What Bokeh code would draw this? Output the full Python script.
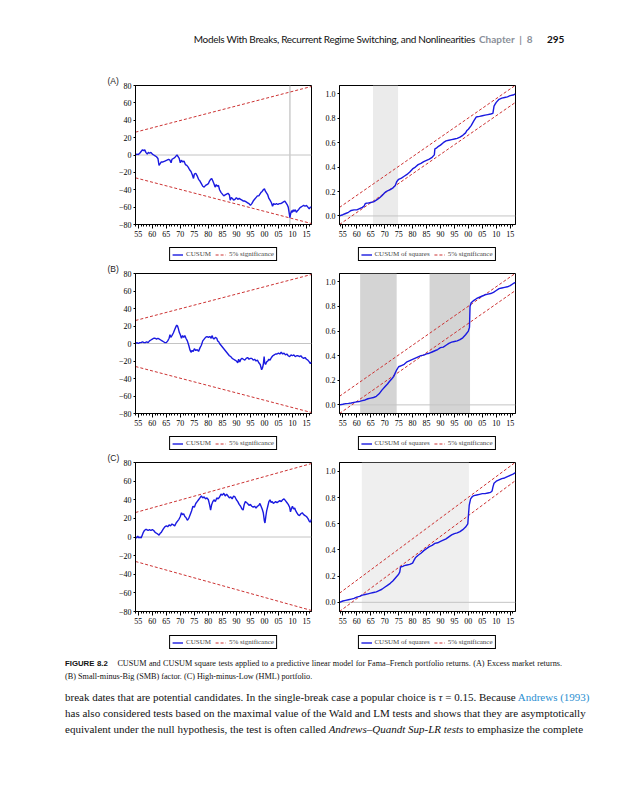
import numpy as np
from bokeh.plotting import figure
from bokeh.models import (Range1d, FixedTicker, Legend, LegendItem, Span,
                          BoxAnnotation, Div, Spacer)
from bokeh.layouts import column, row
from bokeh.embed import file_html
from bokeh.resources import INLINE

# ---------------- data ----------------
major_years = [1955, 1960, 1965, 1970, 1975, 1980, 1985, 1990, 1995, 2000, 2005, 2010, 2015]
year_labels = ["55", "60", "65", "70", "75", "80", "85", "90", "95", "00", "05", "10", "15"]
minor_years = list(range(1954, 2018))

cusum_ticks = [-80, -60, -40, -20, 0, 20, 40, 60, 80]
cusum_labels = ["\u221280", "\u221260", "\u221240", "\u221220", "0", "20", "40", "60", "80"]
sq_ticks = [0.0, 0.2, 0.4, 0.6, 0.8, 1.0]
sq_labels = ["0.0", "0.2", "0.4", "0.6", "0.8", "1.0"]

cusum_span = [1954.0, 2016.8]
sq_span = [1953.8, 2016.9]
cusum_bound = [26.3, 78.9]          # 5% band at start / end (+ and -)
sq_upper = [0.07, 1.07]
sq_lower = [-0.07, 0.93]

# Panel A: excess market returns
a_cusum_x = [1954.0, 1954.5, 1955.0, 1955.5, 1956.0, 1956.5, 1957.0, 1957.3, 1957.7, 1958.2, 1958.6, 1959.0,
             1959.5, 1960.0, 1960.5, 1961.0, 1961.5, 1962.0, 1962.4, 1962.8, 1963.2, 1963.8, 1964.5, 1965.2,
             1965.8, 1966.3, 1966.7, 1967.0, 1967.5, 1968.0, 1968.5, 1968.8, 1969.2, 1969.6, 1970.0, 1970.4,
             1970.8, 1971.3, 1971.8, 1972.3, 1972.8, 1973.3, 1973.8, 1974.3, 1974.7, 1975.0, 1975.5, 1976.0,
             1976.5, 1977.0, 1977.5, 1978.0, 1978.5, 1979.0, 1979.5, 1980.0, 1980.4, 1980.8, 1981.2, 1981.6,
             1982.0, 1982.4, 1982.8, 1983.2, 1983.6, 1984.0, 1984.5, 1985.0, 1985.5, 1986.0, 1986.5, 1987.0,
             1987.5, 1987.8, 1988.2, 1988.6, 1989.0, 1989.5, 1990.0, 1990.5, 1991.0, 1991.5, 1992.0, 1992.5,
             1993.0, 1993.5, 1994.0, 1994.5, 1995.0, 1995.5, 1996.0, 1996.5, 1997.0, 1997.5, 1998.0, 1998.4,
             1998.8, 1999.2, 1999.6, 2000.0, 2000.4, 2000.8, 2001.2, 2001.6, 2002.0, 2002.5, 2002.9, 2003.3,
             2003.8, 2004.3, 2004.8, 2005.3, 2005.8, 2006.3, 2006.8, 2007.3, 2007.7, 2008.1, 2008.5, 2008.9,
             2009.1, 2009.4, 2009.7, 2010.0, 2010.3, 2010.6, 2011.0, 2011.4, 2011.8, 2012.2, 2012.6, 2013.0,
             2013.5, 2014.0, 2014.5, 2015.0, 2015.5, 2016.0, 2016.4, 2016.8]
a_cusum_y = [0, 1, 0.5, 2, 4, 6, 5, 6, 3, 1, 3, 2,
             3, 1, 0, -1, -2, -4, -12, -10, -8, -8, -7, -6,
             -5, -6, -9, -5, -4, -3, -1, 0, -2, -4, -9, -6,
             -8, -7, -11, -12, -14, -17, -19, -23, -27, -22, -21, -24,
             -28, -30, -33, -36, -37, -35, -34, -33, -30, -28, -27, -30,
             -33, -37, -34, -36, -35, -40, -43, -45, -47, -46, -45, -44,
             -46, -52, -49, -50, -52, -51, -49, -51, -50, -51, -52, -53,
             -53, -54, -55, -56, -58, -56, -53, -51, -49, -47, -47, -45,
             -43, -42, -40, -39, -42, -44, -46, -50, -52, -55, -59, -56,
             -57, -56, -57, -56, -56, -55, -54, -53, -55, -57, -60, -68,
             -72, -67, -64, -66, -63, -65, -63, -66, -64, -63, -61, -60,
             -59, -58, -59, -58, -60, -62, -60, -60]
a_vline = [2009.1]

a_sq_x = [1953.8, 1955, 1956, 1957, 1958, 1959, 1960, 1961, 1962, 1962.6, 1963.0, 1963.5, 1964, 1965, 1966,
          1967, 1968, 1969, 1970, 1970.5, 1971, 1972, 1973, 1973.8, 1974.3, 1975, 1976, 1977, 1978, 1979,
          1980, 1981, 1982, 1983, 1984, 1985, 1986, 1987, 1987.8, 1988.0, 1988.5, 1989, 1990, 1991, 1992,
          1993, 1994, 1995, 1996, 1997, 1998, 1999, 1999.5, 2000, 2001, 2002, 2002.8, 2004, 2005, 2006,
          2007, 2008, 2008.8, 2009.2, 2009.6, 2010, 2011, 2012, 2013, 2014, 2015, 2016, 2016.9]
a_sq_y = [0.0, 0.01, 0.02, 0.03, 0.045, 0.05, 0.05, 0.06, 0.07, 0.08, 0.1, 0.105, 0.105, 0.11, 0.115,
          0.13, 0.145, 0.165, 0.19, 0.2, 0.205, 0.215, 0.23, 0.25, 0.28, 0.3, 0.31, 0.325, 0.34, 0.36,
          0.385, 0.4, 0.42, 0.43, 0.445, 0.455, 0.465, 0.48, 0.5, 0.55, 0.555, 0.565, 0.58, 0.6, 0.615,
          0.62, 0.625, 0.63, 0.635, 0.645, 0.66, 0.68, 0.7, 0.71, 0.74, 0.78, 0.81, 0.815, 0.82, 0.825,
          0.83, 0.835, 0.84, 0.9, 0.915, 0.93, 0.955, 0.965, 0.97, 0.975, 0.985, 0.99, 1.0]
a_shade_start = [1965.8]
a_shade_end = [1974.8]

# Panel B: SMB factor
b_cusum_x = [1954.0, 1954.5, 1955, 1955.5, 1956, 1956.5, 1957, 1957.5, 1958, 1958.5, 1959, 1959.5, 1960,
             1960.5, 1961, 1961.5, 1962, 1962.5, 1963, 1963.5, 1964, 1964.5, 1965, 1965.5, 1966, 1966.3,
             1966.6, 1967, 1967.5, 1968, 1968.4, 1968.7, 1969, 1969.3, 1969.6, 1970, 1970.4, 1970.8, 1971.2,
             1971.6, 1972, 1972.5, 1973, 1973.4, 1973.8, 1974.2, 1974.6, 1975, 1975.5, 1976, 1976.5, 1977,
             1977.5, 1978, 1978.5, 1979, 1979.5, 1980, 1980.5, 1981, 1981.3, 1981.7, 1982, 1982.5, 1983,
             1983.3, 1983.7, 1984, 1984.5, 1985, 1985.5, 1986, 1986.5, 1987, 1987.5, 1988, 1988.5, 1989,
             1989.5, 1990, 1990.5, 1990.8, 1991.2, 1991.6, 1992, 1992.5, 1993, 1993.5, 1994, 1994.5, 1995,
             1995.5, 1996, 1996.5, 1997, 1997.5, 1998, 1998.5, 1999, 1999.3, 1999.6, 1999.9, 2000.1, 2000.4,
             2000.8, 2001.2, 2001.6, 2002, 2002.5, 2003, 2003.5, 2004, 2004.5, 2005, 2005.5, 2006, 2006.5,
             2007, 2007.5, 2008, 2008.5, 2009, 2009.5, 2010, 2010.5, 2011, 2011.5, 2012, 2012.5, 2013,
             2013.5, 2014, 2014.5, 2015, 2015.5, 2016, 2016.4, 2016.8]
b_cusum_y = [0, 1, 0, 1, 1, 2, 1, 1, 2, 1, 3, 4, 5,
             6, 6, 5, 6, 5, 4, 3, 2, 1, 1, 3, 6, 10,
             7, 9, 12, 16, 19, 21, 20, 17, 13, 10, 6, 9, 7,
             9, 6, 3, -2, -7, -10, -8, -9, -6, -8, -7, -9, -5,
             -2, 3, 5, 7, 8, 7, 8, 6, 9, 6, 5, 7, 6,
             3, 2, 0, -2, -4, -6, -8, -10, -12, -14, -15, -17, -18,
             -19, -20, -22, -18, -21, -18, -17, -18, -19, -17, -16, -18, -17,
             -17, -19, -18, -20, -19, -22, -24, -30, -28, -24, -15, -22, -24,
             -21, -20, -18, -19, -16, -14, -13, -12, -12, -11, -12, -10, -12,
             -11, -13, -12, -14, -15, -13, -14, -13, -15, -14, -14, -15, -14,
             -16, -17, -16, -18, -19, -21, -23, -21]

b_sq_x = [1953.8, 1955, 1956, 1957, 1958, 1959, 1960, 1961, 1962, 1963, 1964, 1965, 1966, 1967, 1968,
          1969, 1970, 1971, 1971.7, 1972.5, 1973.2, 1973.8, 1974.2, 1975, 1976, 1977, 1978, 1979, 1980,
          1981, 1982, 1983, 1984, 1985, 1986, 1987, 1988, 1989, 1990, 1991, 1992, 1993, 1994, 1995, 1996,
          1997, 1998, 1999, 2000, 2000.4, 2000.6, 2001, 2002, 2003, 2004, 2005, 2006, 2007, 2008, 2009,
          2010, 2011, 2012, 2013, 2014, 2015, 2016, 2016.9]
b_sq_y = [0.0, 0.005, 0.01, 0.012, 0.015, 0.02, 0.025, 0.028, 0.035, 0.04, 0.05, 0.055, 0.06, 0.07, 0.09,
          0.12, 0.145, 0.17, 0.19, 0.21, 0.23, 0.26, 0.28, 0.31, 0.32, 0.33, 0.35, 0.36, 0.37,
          0.38, 0.39, 0.4, 0.405, 0.415, 0.42, 0.43, 0.44, 0.45, 0.465, 0.47, 0.485, 0.5, 0.51, 0.515, 0.52,
          0.53, 0.545, 0.57, 0.6, 0.63, 0.8, 0.83, 0.85, 0.865, 0.875, 0.885, 0.895, 0.9, 0.905, 0.915,
          0.93, 0.945, 0.95, 0.955, 0.96, 0.97, 0.985, 0.995]
b_shade_start = [1961.2, 1986.1]
b_shade_end = [1974.3, 2000.6]

# Panel C: HML portfolio
c_cusum_x = [1954.0, 1954.4, 1954.8, 1955.2, 1955.6, 1956, 1956.4, 1956.8, 1957.2, 1957.6, 1958, 1958.5,
             1959, 1959.5, 1960, 1960.5, 1961, 1961.5, 1962, 1962.4, 1962.8, 1963.2, 1963.6, 1964, 1964.5,
             1965, 1965.5, 1966, 1966.5, 1967, 1967.5, 1968, 1968.5, 1969, 1969.5, 1970, 1970.4, 1970.8,
             1971.2, 1971.6, 1972, 1972.5, 1973, 1973.5, 1974, 1974.5, 1975, 1975.5, 1976, 1976.5, 1977,
             1977.5, 1978, 1978.5, 1979, 1979.5, 1980, 1980.4, 1980.8, 1981.2, 1981.6, 1982, 1982.5, 1983,
             1983.5, 1984, 1984.5, 1985, 1985.5, 1986, 1986.5, 1987, 1987.5, 1988, 1988.5, 1989, 1989.5,
             1990, 1990.5, 1991, 1991.5, 1992, 1992.4, 1992.8, 1993.2, 1993.6, 1994, 1994.5, 1995, 1995.5,
             1996, 1996.5, 1997, 1997.5, 1998, 1998.4, 1998.8, 1999.2, 1999.6, 2000.0, 2000.2, 2000.5,
             2000.8, 2001.2, 2001.6, 2002, 2002.4, 2002.8, 2003.2, 2003.6, 2004, 2004.5, 2005, 2005.5, 2006,
             2006.5, 2007, 2007.5, 2008, 2008.5, 2009, 2009.3, 2009.6, 2010, 2010.4, 2010.8, 2011.2, 2011.6,
             2012, 2012.5, 2013, 2013.5, 2014, 2014.5, 2015, 2015.5, 2016, 2016.4, 2016.8]
c_cusum_y = [0, -1, 1, -1, 0, -1, 2, 5, 7, 8, 8, 7,
             8, 7, 8, 7, 5, 4, 3, 2, 4, 5, 7, 9, 11,
             12, 11, 13, 12, 14, 13, 12, 15, 17, 19, 22, 26, 24,
             25, 22, 21, 18, 20, 24, 28, 33, 32, 36, 38, 40, 42,
             44, 42, 43, 41, 42, 40, 35, 29, 35, 38, 40, 38, 42,
             41, 43, 46, 45, 47, 44, 46, 44, 42, 43, 41, 44, 43,
             40, 38, 35, 33, 30, 29, 35, 38, 37, 36, 34, 35, 33,
             32, 33, 31, 33, 34, 36, 33, 30, 26, 17, 15, 22,
             28, 33, 38, 40, 37, 38, 36, 37, 38, 37, 38, 39, 38,
             40, 41, 39, 37, 35, 32, 27, 30, 33, 30, 31, 28, 26,
             24, 23, 25, 26, 24, 23, 22, 20, 17, 16, 19]

c_sq_x = [1953.8, 1955, 1956, 1957, 1958, 1959, 1960, 1961, 1962, 1963, 1964, 1965, 1966, 1967, 1968,
          1969, 1970, 1971, 1972, 1973, 1974, 1975, 1975.4, 1975.7, 1976.5, 1977, 1978, 1979, 1980, 1980.5,
          1981, 1982, 1983, 1984, 1985, 1986, 1987, 1988, 1989, 1990, 1991, 1992, 1993, 1994, 1995, 1996,
          1997, 1998, 1999, 1999.8, 2000.3, 2000.8, 2001.5, 2002, 2003, 2004, 2005, 2006, 2007, 2008,
          2008.5, 2008.8, 2009.2, 2010, 2011, 2012, 2013, 2014, 2015, 2016, 2016.9]
c_sq_y = [0.0, 0.01, 0.015, 0.02, 0.025, 0.03, 0.04, 0.045, 0.055, 0.06, 0.065, 0.07, 0.075, 0.08, 0.09,
          0.1, 0.115, 0.13, 0.145, 0.165, 0.19, 0.215, 0.23, 0.27, 0.275, 0.28, 0.285, 0.29, 0.3, 0.32,
          0.34, 0.36, 0.375, 0.395, 0.41, 0.425, 0.435, 0.45, 0.455, 0.465, 0.475, 0.485, 0.5, 0.515, 0.525,
          0.53, 0.54, 0.555, 0.575, 0.6, 0.74, 0.79, 0.81, 0.815, 0.82, 0.825, 0.83, 0.83, 0.835, 0.84,
          0.85, 0.88, 0.91, 0.925, 0.935, 0.945, 0.95, 0.96, 0.97, 0.98, 0.99]
c_shade_start = [1961.8]
c_shade_end = [2000.2]

# ---------------- styling ----------------
AX_FONT = "Liberation Serif"
AX_SIZE = "8px"
LEG_SIZE = "7px"
BLUE = "#1a1ae0"
RED = "#cc3333"
ZERO = "#c4c4c4"
LEFT_W, LEFT_BL, LEFT_BR = 227, 40, 11
RIGHT_W, RIGHT_BL, RIGHT_BR = 204, 16, 11
TOP_B, AXIS_B = 11, 20


def style_axes(p, yticks, ylabels):
    p.xgrid.visible = False
    p.ygrid.visible = False
    p.outline_line_color = "black"
    p.outline_line_width = 1
    p.background_fill_color = "white"
    p.border_fill_color = "white"
    p.xaxis.ticker = FixedTicker(ticks=major_years, minor_ticks=minor_years)
    p.xaxis.major_label_overrides = dict(zip(major_years, year_labels))
    p.yaxis.ticker = FixedTicker(ticks=yticks, minor_ticks=[])
    p.yaxis.major_label_overrides = dict(zip(yticks, ylabels))
    for ax in (p.xaxis[0], p.yaxis[0]):
        ax.axis_line_color = "black"
        ax.major_tick_line_color = "black"
        ax.minor_tick_line_color = "black"
        ax.major_label_text_font = AX_FONT
        ax.major_label_text_font_size = AX_SIZE
        ax.major_label_text_color = "black"
        ax.major_tick_in = 0
        ax.minor_tick_in = 0
    p.xaxis.major_tick_out = 4
    p.xaxis.minor_tick_out = 2
    p.xaxis.major_label_standoff = 2
    p.yaxis.major_tick_out = 2
    p.yaxis.minor_tick_out = 0
    p.yaxis.major_label_standoff = 2


def legend_fig(width, bl, br, height, main_label, top_gap):
    q = figure(width=width, height=height, x_range=Range1d(0, 1), y_range=Range1d(0, 1),
               x_axis_type=None, y_axis_type=None, output_backend="svg", toolbar_location=None,
               min_border_left=bl, min_border_right=br, min_border_top=0, min_border_bottom=0)
    q.outline_line_color = None
    q.background_fill_color = "white"
    q.border_fill_color = "white"
    # legend proxies: a single undefined point, so nothing is drawn in the plot area
    proxy = np.array([np.nan])
    r_main = q.line(proxy, proxy, line_color=BLUE, line_width=1.4)
    r_sig = q.line(proxy, proxy, line_color=RED, line_dash="3 2", line_width=1)
    leg = Legend(items=[LegendItem(label=main_label, renderers=[r_main]),
                        LegendItem(label="5% significance", renderers=[r_sig])],
                 orientation="horizontal", location="top_center", margin=top_gap,
                 border_line_color="black", border_line_width=1, border_line_alpha=1,
                 background_fill_color="white", background_fill_alpha=1,
                 label_text_font=AX_FONT, label_text_font_size=LEG_SIZE,
                 glyph_width=11, glyph_height=7, label_height=7, label_standoff=3,
                 padding=2, spacing=4)
    q.add_layout(leg)
    return q


def letter_title(p, letter):
    p.title.text = letter
    p.title.text_font = "Liberation Sans"
    p.title.text_font_size = "8.5px"
    p.title.text_font_style = "normal"
    p.title.text_color = "#222222"
    p.title.align = "left"
    p.title.offset = -28
    p.title.standoff = 0


def cusum_fig(xs, ys, letter, vlines, frame_h):
    p = figure(width=LEFT_W, height=TOP_B + frame_h + AXIS_B,
               x_range=Range1d(cusum_span[0], cusum_span[1]), y_range=Range1d(-80, 80),
               output_backend="svg", toolbar_location=None,
               min_border_left=LEFT_BL, min_border_right=LEFT_BR, min_border_top=TOP_B,
               min_border_bottom=AXIS_B)
    style_axes(p, cusum_ticks, cusum_labels)
    letter_title(p, letter)
    p.add_layout(Span(location=0, dimension="width", line_color=ZERO, line_width=1, level="underlay"))
    for v in vlines:
        p.add_layout(Span(location=v, dimension="height", line_color="#cccccc", line_width=1.5,
                          level="underlay"))
    p.line(cusum_span, cusum_bound, line_color=RED, line_dash="3 2", line_width=1)
    p.line(cusum_span, [-b for b in cusum_bound], line_color=RED, line_dash="3 2", line_width=1)
    p.line(xs, ys, line_color=BLUE, line_width=1.4)
    return p


def sq_fig(xs, ys, starts, ends, shade, frame_h):
    p = figure(width=RIGHT_W, height=TOP_B + frame_h + AXIS_B,
               x_range=Range1d(sq_span[0], sq_span[1]), y_range=Range1d(-0.07, 1.068),
               output_backend="svg", toolbar_location=None,
               min_border_left=RIGHT_BL, min_border_right=RIGHT_BR, min_border_top=TOP_B,
               min_border_bottom=AXIS_B)
    style_axes(p, sq_ticks, sq_labels)
    for s, e in zip(starts, ends):
        p.add_layout(BoxAnnotation(left=s, right=e, fill_color=shade, fill_alpha=1,
                                   line_alpha=0, level="underlay"))
    p.add_layout(Span(location=0, dimension="width", line_color=ZERO, line_width=1, level="underlay"))
    p.line(sq_span, sq_upper, line_color=RED, line_dash="3 2", line_width=1)
    p.line(sq_span, sq_lower, line_color=RED, line_dash="3 2", line_width=1)
    p.line(xs, ys, line_color=BLUE, line_width=1.4)
    return p


def panel_rows(left, right, leg_h, gap):
    legL = legend_fig(LEFT_W, LEFT_BL, LEFT_BR, leg_h, "CUSUM", gap)
    legR = legend_fig(RIGHT_W, RIGHT_BL, RIGHT_BR, leg_h, "CUSUM of squares", gap)
    return [row(Spacer(width=95, height=left.height), left, right),
            row(Spacer(width=95, height=leg_h), legL, legR)]


aL = cusum_fig(a_cusum_x, a_cusum_y, "(A)", a_vline, 140)
aR = sq_fig(a_sq_x, a_sq_y, a_shade_start, a_shade_end, "#ebebeb", 140)
bL = cusum_fig(b_cusum_x, b_cusum_y, "(B)", [], 141)
bR = sq_fig(b_sq_x, b_sq_y, b_shade_start, b_shade_end, "#d4d4d4", 141)
cL = cusum_fig(c_cusum_x, c_cusum_y, "(C)", [], 150)
cR = sq_fig(c_sq_x, c_sq_y, c_shade_start, c_shade_end, "#efefef", 150)

# ---------------- page text ----------------
header_html = (
    "<div style=\"position:relative;width:600px;height:73px;font-family:Lato;font-size:10px;"
    "line-height:10px;\">"
    "<span style=\"position:absolute;right:125px;top:34px;white-space:nowrap;color:#111;"
    "letter-spacing:-0.3px;\">"
    "Models With Breaks, Recurrent Regime Switching, and Nonlinearities</span>"
    "<span style=\"position:absolute;left:479px;top:34px;white-space:nowrap;color:#8a8f99;"
    "font-weight:bold;\">Chapter&nbsp;&nbsp;|&nbsp;&nbsp;8</span>"
    "<span style=\"position:absolute;left:547px;top:34px;white-space:nowrap;color:#111;"
    "font-weight:bold;\">295</span>"
    "</div>"
)
header = Div(text=header_html, width=600, height=73, margin=(0, 0, 0, 0))

line_css = ("position:absolute;left:65px;width:497px;white-space:nowrap;text-align:justify;"
            "text-align-last:justify;")
cap_css = "font-family:'Liberation Serif';font-size:8.2px;line-height:10px;color:#111;"
body_css = "font-family:'Liberation Serif';font-size:11px;line-height:12px;color:#111;"
bottom_html = (
    "<div style=\"position:relative;width:600px;height:90px;\">"
    f"<div style=\"{line_css}{cap_css}top:6px;\">"
    "<span style=\"font-family:'Liberation Sans';font-weight:bold;font-size:7.8px;\">FIGURE 8.2</span>"
    "&nbsp;&nbsp;&nbsp; CUSUM and CUSUM square tests applied to a predictive linear model for "
    "Fama\u2013French portfolio returns. (A) Excess market returns.</div>"
    f"<div style=\"position:absolute;left:65px;white-space:nowrap;{cap_css}top:19px;\">"
    "(B) Small-minus-Big (SMB) factor. (C) High-minus-Low (HML) portfolio.</div>"
    f"<div style=\"{line_css}{body_css}top:38px;\">"
    "break dates that are potential candidates. In the single-break case a popular choice is "
    "<i>\u03c4</i> = 0.15. Because <span style=\"color:#2b8fd1;\">Andrews (1993)</span></div>"
    f"<div style=\"{line_css}{body_css}top:54px;\">"
    "has also considered tests based on the maximal value of the Wald and LM tests and shows that "
    "they are asymptotically</div>"
    f"<div style=\"{line_css}{body_css}top:70px;\">"
    "equivalent under the null hypothesis, the test is often called "
    "<i>Andrews\u2013Quandt Sup-LR tests</i> to emphasize the complete</div>"
    "</div>"
)
bottom = Div(text=bottom_html, width=600, height=90, margin=(0, 0, 0, 0))

layout = column(
    header,
    *panel_rows(aL, aR, 17, 3),
    *panel_rows(bL, bR, 17, 3),
    *panel_rows(cL, cR, 22, 4),
    bottom,
)

open("out.html", "w").write(file_html(layout, INLINE))
